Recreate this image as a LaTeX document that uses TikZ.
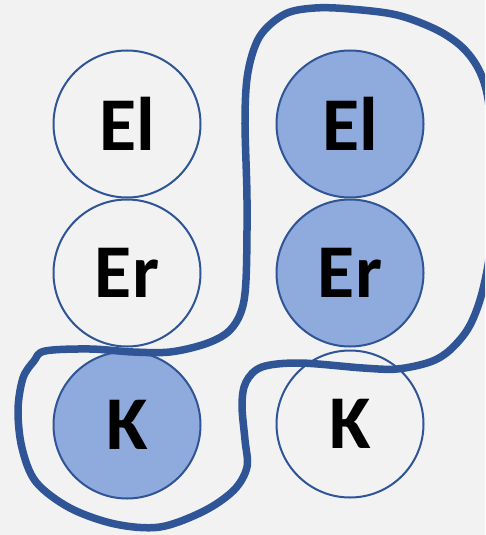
\documentclass[tikz,border=0pt]{standalone}
\usepackage{fontspec}
\setmainfont{Carlito}
\definecolor{bg}{HTML}{F2F2F2}
\definecolor{ringblue}{HTML}{2F5597}
\definecolor{fillblue}{HTML}{8FAADC}
\begin{document}
\begin{tikzpicture}[x=1pt,y=-1pt,
  ball/.style={circle, draw=ringblue, line width=2pt, minimum size=147pt, inner sep=0pt,
    font=\fontsize{76}{76}\selectfont\bfseries},
  empty/.style={ball, fill=bg},
  filled/.style={ball, fill=fillblue},
  loop/.style={draw=ringblue, line width=7.5pt, line join=round}]
  \fill[bg] (0,0) rectangle (485,535);
  \useasboundingbox (0,0) rectangle (485,535);

  % left column
  \node[empty]  (lel) at (127,124) {El};
  \node[empty]  (ler) at (127,273) {\raisebox{-4pt}{Er}};
  \node[filled] (lk)  at (127,425) {K};
  % right column
  \node[filled] (rel) at (350,124) {El};
  \node[filled] (rer) at (350,273) {\raisebox{-4pt}{Er}};
  \node[empty]  (rk)  at (350,424) {K};

  % closed outline around the right El, Er and the left K
  \begin{scope}
    \clip (0,0) rectangle (485,535);
    \draw[loop] plot[smooth cycle, tension=0.55] coordinates {
      (45,351) (90,349) (133,352) (170,352) (205,344) (228,332) (241,312)
      (246,280) (247,200) (245,120) (248,72) (260,36) (285,14) (315,8)
      (350,9) (397,15) (437,30) (463,48) (480,72) (489,105) (494,170)
      (491,243) (482,293) (469,327) (450,350) (430,362) (397,369) (363,368)
      (300,363) (262,367) (246,382) (242,405) (245,440) (247,467) (234,490)
      (204,511) (160,527) (115,524) (70,508) (36,482) (22,448) (18,410) (23,378) (34,361)
    };
  \end{scope}
\end{tikzpicture}
\end{document}
